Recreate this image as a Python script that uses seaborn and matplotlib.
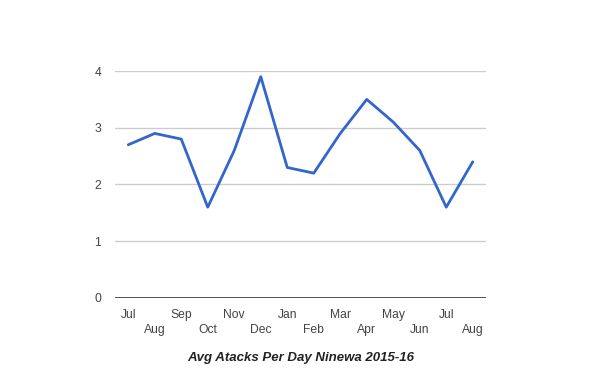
import numpy as np
import pandas as pd
import matplotlib
matplotlib.use("Agg")
import matplotlib.pyplot as plt
import seaborn as sns

# DATA
months = ["Jul", "Aug", "Sep", "Oct", "Nov", "Dec", "Jan",
          "Feb", "Mar", "Apr", "May", "Jun", "Jul", "Aug"]
attacks = [2.7, 2.9, 2.8, 1.6, 2.6, 3.9, 2.3,
           2.2, 2.9, 3.5, 3.1, 2.6, 1.6, 2.4]
y_ticks = [0, 1, 2, 3, 4]

df = pd.DataFrame({"pos": np.arange(len(months)), "attacks": attacks})

sns.set_style("white")
plt.rcParams["font.family"] = ["Liberation Sans", "DejaVu Sans"]

fig = plt.figure(figsize=(6, 3.71), dpi=100)
ax = fig.add_axes([0.1917, 0.1968, 0.6183, 0.6118])

sns.lineplot(data=df, x="pos", y="attacks", ax=ax, color="#3366cc", linewidth=2)

ax.set_xlim(-0.5, len(months) - 0.5)
ax.set_ylim(0, 4)
ax.set_yticks(y_ticks)
ax.set_yticklabels([str(t) for t in y_ticks])
for t in y_ticks[1:]:
    ax.axhline(t, color="#cccccc", linewidth=1, zorder=0)
ax.axhline(0, color="#333333", linewidth=1.2, zorder=3)

# staggered month labels
labels = [m if i % 2 == 0 else "\n" + m for i, m in enumerate(months)]
ax.set_xticks(df["pos"])
ax.set_xticklabels(labels, linespacing=1.35)
ax.tick_params(axis="both", length=0, labelsize=8.7, colors="#444444")
ax.tick_params(axis="x", pad=8)
ax.tick_params(axis="y", pad=10)

for s in ax.spines.values():
    s.set_visible(False)

ax.set_xlabel("Avg Atacks Per Day Ninewa 2015-16", fontsize=9.5,
              fontweight="bold", style="italic", color="#222222", labelpad=11)
ax.set_ylabel("")

fig.savefig("out.png", dpi=100)
